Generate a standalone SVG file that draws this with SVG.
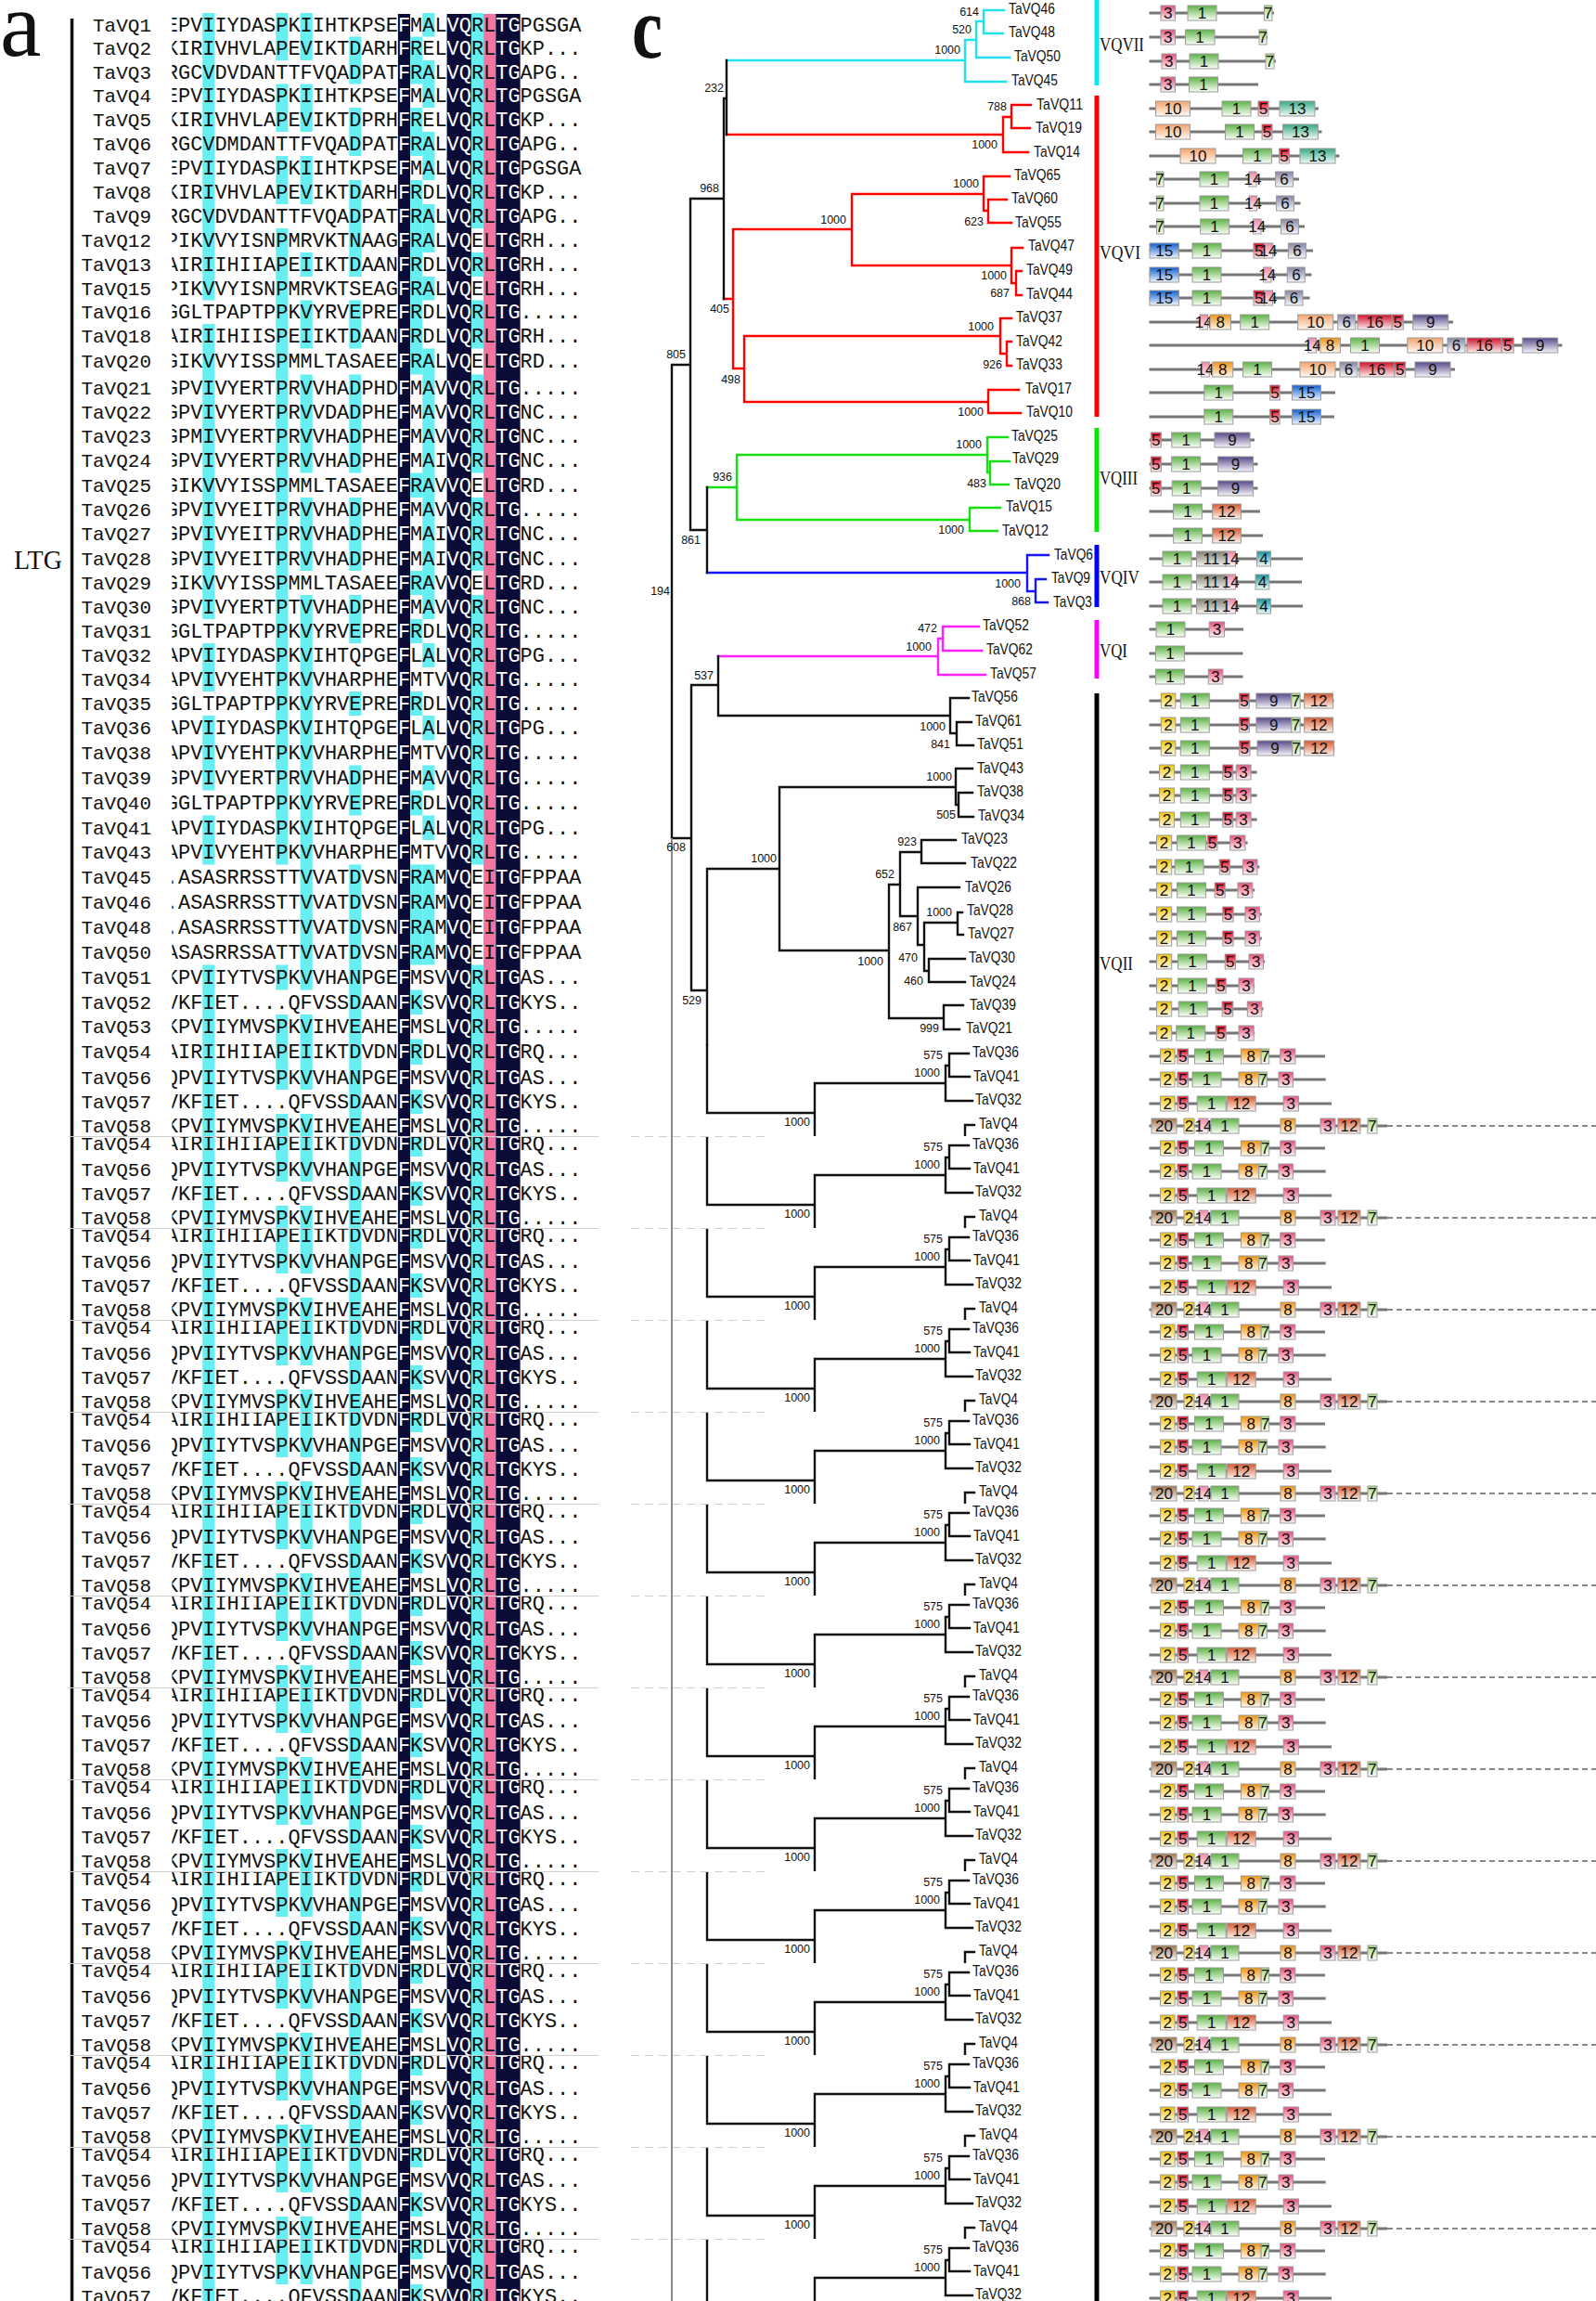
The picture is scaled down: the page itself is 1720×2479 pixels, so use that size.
<svg xmlns="http://www.w3.org/2000/svg" width="1720" height="2479" viewBox="0 0 1720 2479">
<style>
.nm{font-family:"Liberation Mono",monospace;font-size:21px;text-anchor:end;fill:#111}
.cy{fill:#66eef0}
.dk{fill:#0b0b38}
.lf{font-family:"Liberation Sans",Arial,sans-serif;font-size:17px;fill:#111}
.bs{font-family:"Liberation Sans",Arial,sans-serif;font-size:12.5px;fill:#111;text-anchor:end}
.t{fill:none;stroke-width:2.4;stroke-linecap:square}
.vq{font-family:"Liberation Serif",serif;font-size:22px;fill:#111}
.dm rect{stroke:#9a9a9a;stroke-width:1}
.dm text{font-family:"Liberation Sans",Arial,sans-serif;font-size:17px;text-anchor:middle;fill:#111}
.ln{stroke:#777;stroke-width:3;fill:none}
.seam{stroke:#cfcfcf;stroke-width:1;fill:none}
</style>
<defs>
<clipPath id="seqclip"><rect x="185.4" y="0" width="460" height="2479"/></clipPath>
<clipPath id="darkclip"><rect x="428.9" y="0" width="13.17" height="2479"/><rect x="481.6" y="0" width="26.33" height="2479"/><rect x="534.3" y="0" width="26.33" height="2479"/></clipPath>
<clipPath id="stripclip"><rect x="0" y="1125" width="1720" height="99"/></clipPath>
<linearGradient id="g1" x1="0" y1="0" x2="0" y2="1"><stop offset="0" stop-color="#5fb247"/><stop offset="1" stop-color="#fbfff8"/></linearGradient>
<linearGradient id="g2" x1="0" y1="0" x2="0" y2="1"><stop offset="0" stop-color="#f2c400"/><stop offset="1" stop-color="#fffbe8"/></linearGradient>
<linearGradient id="g3" x1="0" y1="0" x2="0" y2="1"><stop offset="0" stop-color="#e8507a"/><stop offset="1" stop-color="#fff2f5"/></linearGradient>
<linearGradient id="g4" x1="0" y1="0" x2="0" y2="1"><stop offset="0" stop-color="#15959a"/><stop offset="1" stop-color="#f2fbfb"/></linearGradient>
<linearGradient id="g5" x1="0" y1="0" x2="0" y2="1"><stop offset="0" stop-color="#e0001c"/><stop offset="1" stop-color="#fff0f0"/></linearGradient>
<linearGradient id="g6" x1="0" y1="0" x2="0" y2="1"><stop offset="0" stop-color="#8585a5"/><stop offset="1" stop-color="#f8f8fc"/></linearGradient>
<linearGradient id="g7" x1="0" y1="0" x2="0" y2="1"><stop offset="0" stop-color="#a6d676"/><stop offset="1" stop-color="#fbfff6"/></linearGradient>
<linearGradient id="g8" x1="0" y1="0" x2="0" y2="1"><stop offset="0" stop-color="#f09410"/><stop offset="1" stop-color="#fff8ec"/></linearGradient>
<linearGradient id="g9" x1="0" y1="0" x2="0" y2="1"><stop offset="0" stop-color="#574888"/><stop offset="1" stop-color="#f6f4fb"/></linearGradient>
<linearGradient id="g10" x1="0" y1="0" x2="0" y2="1"><stop offset="0" stop-color="#f5a46c"/><stop offset="1" stop-color="#fff8f2"/></linearGradient>
<linearGradient id="g11" x1="0" y1="0" x2="0" y2="1"><stop offset="0" stop-color="#7e7e72"/><stop offset="1" stop-color="#f6f6f2"/></linearGradient>
<linearGradient id="g12" x1="0" y1="0" x2="0" y2="1"><stop offset="0" stop-color="#d65a30"/><stop offset="1" stop-color="#fff3ee"/></linearGradient>
<linearGradient id="g13" x1="0" y1="0" x2="0" y2="1"><stop offset="0" stop-color="#38a884"/><stop offset="1" stop-color="#f0fbf7"/></linearGradient>
<linearGradient id="g14" x1="0" y1="0" x2="0" y2="1"><stop offset="0" stop-color="#f088a6"/><stop offset="1" stop-color="#fff5f8"/></linearGradient>
<linearGradient id="g15" x1="0" y1="0" x2="0" y2="1"><stop offset="0" stop-color="#0f5fd0"/><stop offset="1" stop-color="#eef5ff"/></linearGradient>
<linearGradient id="g16" x1="0" y1="0" x2="0" y2="1"><stop offset="0" stop-color="#d01028"/><stop offset="1" stop-color="#ffeef0"/></linearGradient>
<linearGradient id="g20" x1="0" y1="0" x2="0" y2="1"><stop offset="0" stop-color="#a07650"/><stop offset="1" stop-color="#fbf6f0"/></linearGradient>
</defs>

<g id="panel-a">
<text x="0" y="60" font-family="Liberation Serif" font-size="100" fill="#111">a</text>
<g id="columns">
<rect class="dk" x="428.9" y="15" width="13.17" height="2464"/>
<rect class="dk" x="481.6" y="15" width="26.33" height="2464"/>
<rect fill="#f5749f" x="521.1" y="15" width="13.17" height="2464"/>
<rect class="dk" x="534.3" y="15" width="26.33" height="2464"/>
</g>
<g id="cyan-cells">
<rect class="cy" x="218.3" y="14" width="13.17" height="309.5"/><rect class="cy" x="218.3" y="349" width="13.17" height="318"/><rect class="cy" x="218.3" y="693" width="13.17" height="52"/><rect class="cy" x="218.3" y="771" width="13.17" height="80.5"/><rect class="cy" x="218.3" y="878.5" width="13.17" height="53"/><rect class="cy" x="218.3" y="1039.5" width="13.17" height="85.5"/>
<rect class="cy" x="297.3" y="14" width="13.17" height="51"/><rect class="cy" x="297.3" y="90.5" width="13.17" height="51.5"/><rect class="cy" x="297.3" y="168" width="13.17" height="52"/><rect class="cy" x="297.3" y="246" width="13.17" height="685.5"/><rect class="cy" x="297.3" y="1039.5" width="13.17" height="27"/><rect class="cy" x="297.3" y="1093" width="13.17" height="32"/>
<rect class="cy" x="323.6" y="14" width="13.17" height="51"/><rect class="cy" x="323.6" y="90.5" width="13.17" height="51.5"/><rect class="cy" x="323.6" y="168" width="13.17" height="52"/><rect class="cy" x="323.6" y="272" width="13.17" height="26"/><rect class="cy" x="323.6" y="323.5" width="13.17" height="52"/><rect class="cy" x="323.6" y="403.5" width="13.17" height="106"/><rect class="cy" x="323.6" y="536" width="13.17" height="79"/><rect class="cy" x="323.6" y="641" width="13.17" height="425.5"/><rect class="cy" x="323.6" y="1093" width="13.17" height="32"/>
<rect class="cy" x="376.3" y="39.5" width="13.17" height="51"/><rect class="cy" x="376.3" y="116" width="13.17" height="52"/><rect class="cy" x="376.3" y="194" width="13.17" height="104"/><rect class="cy" x="376.3" y="323.5" width="13.17" height="52"/><rect class="cy" x="376.3" y="403.5" width="13.17" height="106"/><rect class="cy" x="376.3" y="536" width="13.17" height="79"/><rect class="cy" x="376.3" y="641" width="13.17" height="52"/><rect class="cy" x="376.3" y="745" width="13.17" height="26"/><rect class="cy" x="376.3" y="824.5" width="13.17" height="54"/><rect class="cy" x="376.3" y="931.5" width="13.17" height="193.5"/>
<rect class="cy" x="442.1" y="39.5" width="13.17" height="51"/><rect class="cy" x="442.1" y="116" width="13.17" height="52"/><rect class="cy" x="442.1" y="194" width="13.17" height="209.5"/><rect class="cy" x="442.1" y="509.5" width="13.17" height="26.5"/><rect class="cy" x="442.1" y="615" width="13.17" height="26"/><rect class="cy" x="442.1" y="667" width="13.17" height="26"/><rect class="cy" x="442.1" y="745" width="13.17" height="26"/><rect class="cy" x="442.1" y="851.5" width="13.17" height="27"/><rect class="cy" x="442.1" y="931.5" width="13.17" height="108"/><rect class="cy" x="442.1" y="1066.5" width="13.17" height="26.5"/><rect class="cy" x="442.1" y="1119.5" width="13.17" height="5.5"/>
<rect class="cy" x="455.3" y="14" width="13.17" height="25.5"/><rect class="cy" x="455.3" y="65" width="13.17" height="51"/><rect class="cy" x="455.3" y="142" width="13.17" height="52"/><rect class="cy" x="455.3" y="220" width="13.17" height="52"/><rect class="cy" x="455.3" y="298" width="13.17" height="25.5"/><rect class="cy" x="455.3" y="375.5" width="13.17" height="291.5"/><rect class="cy" x="455.3" y="693" width="13.17" height="26"/><rect class="cy" x="455.3" y="771" width="13.17" height="26.5"/><rect class="cy" x="455.3" y="824.5" width="13.17" height="27"/><rect class="cy" x="455.3" y="878.5" width="13.17" height="26.5"/><rect class="cy" x="455.3" y="931.5" width="13.17" height="108"/>
<rect class="cy" x="507.9" y="14" width="13.17" height="232"/><rect class="cy" x="507.9" y="272" width="13.17" height="26"/><rect class="cy" x="507.9" y="323.5" width="13.17" height="52"/><rect class="cy" x="507.9" y="403.5" width="13.17" height="106"/><rect class="cy" x="507.9" y="536" width="13.17" height="79"/><rect class="cy" x="507.9" y="641" width="13.17" height="290.5"/><rect class="cy" x="507.9" y="1039.5" width="13.17" height="85.5"/>
</g>
<rect x="75.8" y="20" width="3.5" height="2459" fill="#111"/>
<text x="15" y="613" font-family="Liberation Serif" font-size="29" fill="#111" textLength="52" lengthAdjust="spacingAndGlyphs">LTG</text>
<g id="names" class="nm">
<text x="163" y="34">TaVQ1</text><text x="163" y="59">TaVQ2</text><text x="163" y="85">TaVQ3</text><text x="163" y="110">TaVQ4</text><text x="163" y="136">TaVQ5</text><text x="163" y="162">TaVQ6</text><text x="163" y="188">TaVQ7</text><text x="163" y="214">TaVQ8</text><text x="163" y="240">TaVQ9</text><text x="163" y="266">TaVQ12</text><text x="163" y="292">TaVQ13</text><text x="163" y="318">TaVQ15</text><text x="163" y="343">TaVQ16</text><text x="163" y="369">TaVQ18</text><text x="163" y="396">TaVQ20</text><text x="163" y="425">TaVQ21</text><text x="163" y="451">TaVQ22</text><text x="163" y="477">TaVQ23</text><text x="163" y="503">TaVQ24</text><text x="163" y="530">TaVQ25</text><text x="163" y="556">TaVQ26</text><text x="163" y="582">TaVQ27</text><text x="163" y="609">TaVQ28</text><text x="163" y="635">TaVQ29</text><text x="163" y="661">TaVQ30</text><text x="163" y="687">TaVQ31</text><text x="163" y="713">TaVQ32</text><text x="163" y="739">TaVQ34</text><text x="163" y="765">TaVQ35</text><text x="163" y="791">TaVQ36</text><text x="163" y="818">TaVQ38</text><text x="163" y="845">TaVQ39</text><text x="163" y="872">TaVQ40</text><text x="163" y="899">TaVQ41</text><text x="163" y="925">TaVQ43</text><text x="163" y="952">TaVQ45</text><text x="163" y="979">TaVQ46</text><text x="163" y="1006">TaVQ48</text><text x="163" y="1033">TaVQ50</text><text x="163" y="1060">TaVQ51</text><text x="163" y="1087">TaVQ52</text><text x="163" y="1113">TaVQ53</text>
</g>
<g fill="#111"><g id="seqA" font-family="Liberation Mono, monospace" font-size="21.94" clip-path="url(#seqclip)">
<text x="178.8" y="34">EPVIIYDASPKIIHTKPSEFMALVQRLTGPGSGA</text>
<text x="178.8" y="59">KIRIVHVLAPEVIKTDARHFRELVQRLTGKP...</text>
<text x="178.8" y="85">RGCVDVDANTTFVQADPATFRALVQRLTGAPG..</text>
<text x="178.8" y="110">EPVIIYDASPKIIHTKPSEFMALVQRLTGPGSGA</text>
<text x="178.8" y="136">KIRIVHVLAPEVIKTDPRHFRELVQRLTGKP...</text>
<text x="178.8" y="162">RGCVDMDANTTFVQADPATFRALVQRLTGAPG..</text>
<text x="178.8" y="188">EPVIIYDASPKIIHTKPSEFMALVQRLTGPGSGA</text>
<text x="178.8" y="214">KIRIVHVLAPEVIKTDARHFRDLVQRLTGKP...</text>
<text x="178.8" y="240">RGCVDVDANTTFVQADPATFRALVQRLTGAPG..</text>
<text x="178.8" y="266">PIKVVYISNPMRVKTNAAGFRALVQELTGRH...</text>
<text x="178.8" y="292">AIRIIHIIAPEIIKTDAANFRDLVQRLTGRH...</text>
<text x="178.8" y="318">PIKVVYISNPMRVKTSEAGFRALVQELTGRH...</text>
<text x="178.8" y="343">GGLTPAPTPPKVYRVEPREFRDLVQRLTG.....</text>
<text x="178.8" y="369">AIRIIHIISPEIIKTDAANFRDLVQRLTGRH...</text>
<text x="178.8" y="396">GIKVVYISSPMMLTASAEEFRALVQELTGRD...</text>
<text x="178.8" y="425">GPVIVYERTPRVVHADPHDFMAVVQRLTG.....</text>
<text x="178.8" y="451">GPVIVYERTPRVVDADPHEFMAVVQRLTGNC...</text>
<text x="178.8" y="477">GPMIVYERTPRVVHADPHEFMAVVQRLTGNC...</text>
<text x="178.8" y="503">GPVIVYERTPRVVHADPHEFMAIVQRLTGNC...</text>
<text x="178.8" y="530">GIKVVYISSPMMLTASAEEFRAVVQELTGRD...</text>
<text x="178.8" y="556">GPVIVYEITPRVVHADPHEFMAVVQRLTG.....</text>
<text x="178.8" y="582">GPVIVYEITPRVVHADPHEFMAIVQRLTGNC...</text>
<text x="178.8" y="609">GPVIVYEITPRVVHADPHEFMAIVQRLTGNC...</text>
<text x="178.8" y="635">GIKVVYISSPMMLTASAEEFRAVVQELTGRD...</text>
<text x="178.8" y="661">GPVIVYERTPTVVHADPHEFMAVVQRLTGNC...</text>
<text x="178.8" y="687">GGLTPAPTPPKVYRVEPREFRDLVQRLTG.....</text>
<text x="178.8" y="713">APVIIYDASPKVIHTQPGEFLALVQRLTGPG...</text>
<text x="178.8" y="739">APVIVYEHTPKVVHARPHEFMTVVQRLTG.....</text>
<text x="178.8" y="765">GGLTPAPTPPKVYRVEPREFRDLVQRLTG.....</text>
<text x="178.8" y="791">APVIIYDASPKVIHTQPGEFLALVQRLTGPG...</text>
<text x="178.8" y="818">APVIVYEHTPKVVHARPHEFMTVVQRLTG.....</text>
<text x="178.8" y="845">GPVIVYERTPRVVHADPHEFMAVVQRLTG.....</text>
<text x="178.8" y="872">GGLTPAPTPPKVYRVEPREFRDLVQRLTG.....</text>
<text x="178.8" y="899">APVIIYDASPKVIHTQPGEFLALVQRLTGPG...</text>
<text x="178.8" y="925">APVIVYEHTPKVVHARPHEFMTVVQRLTG.....</text>
<text x="178.8" y="952">.ASASRRSSTTVVATDVSNFRAMVQEITGFPPAA</text>
<text x="178.8" y="979">.ASASRRSSTTVVATDVSNFRAMVQEITGFPPAA</text>
<text x="178.8" y="1006">.ASASRRSSTTVVATDVSNFRAMVQEITGFPPAA</text>
<text x="178.8" y="1033">ASASRRSSATTVVATDVSNFRAMVQEITGFPPAA</text>
<text x="178.8" y="1060">KPVIIYTVSPKVVHANPGEFMSVVQRLTGAS...</text>
<text x="178.8" y="1087">VKFIET....QFVSSDAANFKSVVQRLTGKYS..</text>
<text x="178.8" y="1113">KPVIIYMVSPKVIHVEAHEFMSLVQRLTG.....</text>
</g></g>
<use href="#seqA" fill="#fff" clip-path="url(#darkclip)"/>
</g>

<g id="tree">
<text x="681" y="62" font-family="Liberation Serif" font-weight="bold" font-size="96" fill="#111" textLength="33" lengthAdjust="spacingAndGlyphs">c</text>
<path class="t" stroke="#22e2ee" d="M783,65H1040M1040,43V88H1084M1040,43H1052M1052,23V62H1088M1052,23H1060M1060,11V36M1060,11H1082M1060,36H1081"/>
<path class="t" stroke="#f00" d="M783,145H1081M1081,126V164H1108M1081,126H1090M1090,113V138M1090,113H1111M1090,138H1110M780,322H790M790,247V397M790,247H918M918,209V286M918,209H1060M1060,190V227M1060,190H1088M1060,227H1065M1065,215V240M1065,215H1085M1065,240H1090M918,286H1090M1090,267V305M1090,267H1102M1090,305H1095M1095,292V318M1095,292H1101M1095,318H1101M790,397H802M802,362V433M802,362H1078M1078,343V381M1078,343H1090M1078,381H1085M1085,368V394M1085,368H1090M1085,394H1090M802,433H1065M1065,420V445M1065,420H1098M1065,445H1100"/>
<path class="t" stroke="#14e014" d="M762,525H794M794,490V560M794,490H1064M1064,471V509M1064,471H1086M1064,509H1067M1067,497V522M1067,497H1088M1067,522H1087M794,560H1045M1045,547V572M1045,547H1078M1045,572H1075"/>
<path class="t" stroke="#1414ff" d="M762,617H1107M1107,598V637M1107,598H1130M1107,637H1116M1116,624V649M1116,624H1127M1116,649H1129"/>
<path class="t" stroke="#ff20ff" d="M774,707H1011M1011,688V727M1011,688H1016M1016,675V701M1016,675H1055M1016,701H1058M1011,727H1062"/>
<path class="t" stroke="#111" d="M783,65V145M780,106H783M780,106V322M744,214H780M744,214V571M725,393H744M744,571H762M762,525V617M724,393V903M724,903H745M745,738V1067M745,738H774M745,1067H762M774,707V771M774,771H1024M1024,752V790M1024,752H1044M1024,790H1031M1031,778V803M1031,778H1047M1031,803H1049M762,936V1125M762,936H840M840,848V1024M840,848H1030M1030,828V867M1030,828H1048M1030,867H1033M1033,854V880M1033,854H1048M1033,880H1049M840,1024H958M958,953V1097M958,953H970M970,918V987M970,918H993M993,905V930M993,905H1030M993,930H1040M970,987H989M989,956V1018M989,956H1034M989,1018H996M996,994V1046M996,994H1032M1032,983V1007M1032,983H1037M1032,1007H1038M996,1046H1001M1001,1033V1058M1001,1033H1040M1001,1058H1040M958,1097H1017M1017,1083V1109M1017,1083H1038M1017,1109H1034"/>
<path d="M724,903V2479" stroke="#8a8a8a" stroke-width="2" fill="none"/>
<g id="leaf-labels" class="lf">
<text x="1087" y="15" textLength="50" lengthAdjust="spacingAndGlyphs">TaVQ46</text>
<text x="1087" y="40" textLength="50" lengthAdjust="spacingAndGlyphs">TaVQ48</text>
<text x="1093" y="66" textLength="50" lengthAdjust="spacingAndGlyphs">TaVQ50</text>
<text x="1090" y="92" textLength="50" lengthAdjust="spacingAndGlyphs">TaVQ45</text>
<text x="1117" y="118" textLength="50" lengthAdjust="spacingAndGlyphs">TaVQ11</text>
<text x="1116" y="143" textLength="50" lengthAdjust="spacingAndGlyphs">TaVQ19</text>
<text x="1114" y="169" textLength="50" lengthAdjust="spacingAndGlyphs">TaVQ14</text>
<text x="1093" y="194" textLength="50" lengthAdjust="spacingAndGlyphs">TaVQ65</text>
<text x="1090" y="219" textLength="50" lengthAdjust="spacingAndGlyphs">TaVQ60</text>
<text x="1094" y="245" textLength="50" lengthAdjust="spacingAndGlyphs">TaVQ55</text>
<text x="1108" y="270" textLength="50" lengthAdjust="spacingAndGlyphs">TaVQ47</text>
<text x="1106" y="296" textLength="50" lengthAdjust="spacingAndGlyphs">TaVQ49</text>
<text x="1106" y="322" textLength="50" lengthAdjust="spacingAndGlyphs">TaVQ44</text>
<text x="1095" y="347" textLength="50" lengthAdjust="spacingAndGlyphs">TaVQ37</text>
<text x="1095" y="373" textLength="50" lengthAdjust="spacingAndGlyphs">TaVQ42</text>
<text x="1095" y="398" textLength="50" lengthAdjust="spacingAndGlyphs">TaVQ33</text>
<text x="1105" y="424" textLength="50" lengthAdjust="spacingAndGlyphs">TaVQ17</text>
<text x="1106" y="449" textLength="50" lengthAdjust="spacingAndGlyphs">TaVQ10</text>
<text x="1090" y="475" textLength="50" lengthAdjust="spacingAndGlyphs">TaVQ25</text>
<text x="1091" y="499" textLength="50" lengthAdjust="spacingAndGlyphs">TaVQ29</text>
<text x="1093" y="527" textLength="50" lengthAdjust="spacingAndGlyphs">TaVQ20</text>
<text x="1084" y="551" textLength="50" lengthAdjust="spacingAndGlyphs">TaVQ15</text>
<text x="1080" y="577" textLength="50" lengthAdjust="spacingAndGlyphs">TaVQ12</text>
<text x="1136" y="603" textLength="42" lengthAdjust="spacingAndGlyphs">TaVQ6</text>
<text x="1133" y="628" textLength="42" lengthAdjust="spacingAndGlyphs">TaVQ9</text>
<text x="1135" y="654" textLength="42" lengthAdjust="spacingAndGlyphs">TaVQ3</text>
<text x="1059" y="679" textLength="50" lengthAdjust="spacingAndGlyphs">TaVQ52</text>
<text x="1063" y="705" textLength="50" lengthAdjust="spacingAndGlyphs">TaVQ62</text>
<text x="1067" y="731" textLength="50" lengthAdjust="spacingAndGlyphs">TaVQ57</text>
<text x="1047" y="756" textLength="50" lengthAdjust="spacingAndGlyphs">TaVQ56</text>
<text x="1051" y="782" textLength="50" lengthAdjust="spacingAndGlyphs">TaVQ61</text>
<text x="1053" y="807" textLength="50" lengthAdjust="spacingAndGlyphs">TaVQ51</text>
<text x="1053" y="833" textLength="50" lengthAdjust="spacingAndGlyphs">TaVQ43</text>
<text x="1053" y="858" textLength="50" lengthAdjust="spacingAndGlyphs">TaVQ38</text>
<text x="1054" y="884" textLength="50" lengthAdjust="spacingAndGlyphs">TaVQ34</text>
<text x="1036" y="909" textLength="50" lengthAdjust="spacingAndGlyphs">TaVQ23</text>
<text x="1046" y="935" textLength="50" lengthAdjust="spacingAndGlyphs">TaVQ22</text>
<text x="1040" y="961" textLength="50" lengthAdjust="spacingAndGlyphs">TaVQ26</text>
<text x="1042" y="986" textLength="50" lengthAdjust="spacingAndGlyphs">TaVQ28</text>
<text x="1043" y="1011" textLength="50" lengthAdjust="spacingAndGlyphs">TaVQ27</text>
<text x="1044" y="1037" textLength="50" lengthAdjust="spacingAndGlyphs">TaVQ30</text>
<text x="1045" y="1063" textLength="50" lengthAdjust="spacingAndGlyphs">TaVQ24</text>
<text x="1045" y="1088" textLength="50" lengthAdjust="spacingAndGlyphs">TaVQ39</text>
<text x="1041" y="1113" textLength="50" lengthAdjust="spacingAndGlyphs">TaVQ21</text>
</g>
<g id="bootstrap" class="bs">
<text x="1055" y="17">614</text><text x="1047" y="36">520</text><text x="1035" y="58">1000</text><text x="780" y="99">232</text><text x="1085" y="119">788</text><text x="1075" y="160">1000</text><text x="775" y="207">968</text><text x="1055" y="202">1000</text><text x="1060" y="243">623</text><text x="912" y="241">1000</text><text x="1085" y="301">1000</text><text x="1088" y="320">687</text><text x="786" y="337">405</text><text x="1071" y="356">1000</text><text x="739" y="386">805</text><text x="1080" y="397">926</text><text x="798" y="413">498</text><text x="1060" y="448">1000</text><text x="1058" y="483">1000</text><text x="789" y="518">936</text><text x="1063" y="525">483</text><text x="1039" y="575">1000</text><text x="755" y="586">861</text><text x="1100" y="633">1000</text><text x="722" y="641">194</text><text x="1111" y="652">868</text><text x="1010" y="681">472</text><text x="1004" y="701">1000</text><text x="769" y="732">537</text><text x="1019" y="787">1000</text><text x="1024" y="806">841</text><text x="1026" y="841">1000</text><text x="1030" y="882">505</text><text x="988" y="911">923</text><text x="739" y="917">608</text><text x="837" y="929">1000</text><text x="964" y="946">652</text><text x="1026" y="987">1000</text><text x="983" y="1003">867</text><text x="989" y="1036">470</text><text x="952" y="1040">1000</text><text x="995" y="1061">460</text><text x="756" y="1082">529</text><text x="1012" y="1112">999</text>
</g>
</g>

<g id="clade-bars">
<rect x="1179.5" y="0" width="5" height="92" fill="#00eaf5"/>
<rect x="1179.5" y="103" width="5" height="346" fill="#f00"/>
<rect x="1179.5" y="461" width="5" height="112" fill="#00e800"/>
<rect x="1179.5" y="587" width="5" height="67" fill="#00f"/>
<rect x="1179.5" y="668" width="5" height="63" fill="#f0f"/>
<rect x="1179.5" y="747" width="5" height="1732" fill="#000"/>
<text class="vq" x="1185" y="55" textLength="48" lengthAdjust="spacingAndGlyphs">VQVII</text>
<text class="vq" x="1185" y="279" textLength="44" lengthAdjust="spacingAndGlyphs">VQVI</text>
<text class="vq" x="1185" y="522" textLength="41" lengthAdjust="spacingAndGlyphs">VQIII</text>
<text class="vq" x="1185" y="629" textLength="43" lengthAdjust="spacingAndGlyphs">VQIV</text>
<text class="vq" x="1185" y="708" textLength="30" lengthAdjust="spacingAndGlyphs">VQI</text>
<text class="vq" x="1185" y="1045" textLength="36" lengthAdjust="spacingAndGlyphs">VQII</text>
</g>

<g id="domains" class="dm">
<g transform="translate(0,14)"><path class="ln" d="M1238.5,0H1373"/><rect x="1251" y="-8" width="15.5" height="16" fill="url(#g3)"/><text x="1258.7" y="6">3</text><rect x="1280" y="-8" width="31" height="16" fill="url(#g1)"/><text x="1295.5" y="6">1</text><rect x="1362.5" y="-8" width="8.5" height="16" fill="url(#g7)"/><text x="1366.7" y="6">7</text></g>
<g transform="translate(0,40)"><path class="ln" d="M1238.5,0H1366"/><rect x="1251" y="-8" width="15.5" height="16" fill="url(#g3)"/><text x="1258.7" y="6">3</text><rect x="1277.5" y="-8" width="31.5" height="16" fill="url(#g1)"/><text x="1293" y="6">1</text><rect x="1357" y="-8" width="8" height="16" fill="url(#g7)"/><text x="1361" y="6">7</text></g>
<g transform="translate(0,66)"><path class="ln" d="M1238.5,0H1375"/><rect x="1252" y="-8" width="15.5" height="16" fill="url(#g3)"/><text x="1259.7" y="6">3</text><rect x="1282" y="-8" width="31" height="16" fill="url(#g1)"/><text x="1297.5" y="6">1</text><rect x="1364" y="-8" width="9" height="16" fill="url(#g7)"/><text x="1368.5" y="6">7</text></g>
<g transform="translate(0,91)"><path class="ln" d="M1238.5,0H1356"/><rect x="1251" y="-8" width="15.5" height="16" fill="url(#g3)"/><text x="1258.7" y="6">3</text><rect x="1281.5" y="-8" width="31" height="16" fill="url(#g1)"/><text x="1297" y="6">1</text></g>
<g transform="translate(0,117)"><path class="ln" d="M1238.5,0H1421"/><rect x="1245.5" y="-8" width="37" height="16" fill="url(#g10)"/><text x="1264" y="6">10</text><rect x="1317" y="-8" width="31" height="16" fill="url(#g1)"/><text x="1332.5" y="6">1</text><rect x="1356" y="-8" width="11" height="16" fill="url(#g5)"/><text x="1361.5" y="6">5</text><rect x="1379" y="-8" width="38" height="16" fill="url(#g13)"/><text x="1398" y="6">13</text></g>
<g transform="translate(0,142)"><path class="ln" d="M1238.5,0H1424.5"/><rect x="1245.5" y="-8" width="37" height="16" fill="url(#g10)"/><text x="1264" y="6">10</text><rect x="1320.5" y="-8" width="31" height="16" fill="url(#g1)"/><text x="1336" y="6">1</text><rect x="1360" y="-8" width="11" height="16" fill="url(#g5)"/><text x="1365.5" y="6">5</text><rect x="1382.5" y="-8" width="38" height="16" fill="url(#g13)"/><text x="1401.5" y="6">13</text></g>
<g transform="translate(0,168)"><path class="ln" d="M1238.5,0H1443.5"/><rect x="1272" y="-8" width="38" height="16" fill="url(#g10)"/><text x="1291" y="6">10</text><rect x="1339.5" y="-8" width="31" height="16" fill="url(#g1)"/><text x="1355" y="6">1</text><rect x="1378.7" y="-8" width="10.7" height="16" fill="url(#g5)"/><text x="1384" y="6">5</text><rect x="1401" y="-8" width="38" height="16" fill="url(#g13)"/><text x="1420" y="6">13</text></g>
<g transform="translate(0,193)"><path class="ln" d="M1238.5,0H1400"/><rect x="1246.5" y="-8" width="7.5" height="16" fill="url(#g7)"/><text x="1250" y="6">7</text><rect x="1293" y="-8" width="31" height="16" fill="url(#g1)"/><text x="1308.5" y="6">1</text><rect x="1346" y="-8" width="8" height="16" fill="url(#g14)"/><text x="1350" y="6">14</text><rect x="1374.6" y="-8" width="19" height="16" fill="url(#g6)"/><text x="1384" y="6">6</text></g>
<g transform="translate(0,219)"><path class="ln" d="M1238.5,0H1401.5"/><rect x="1246.5" y="-8" width="7.5" height="16" fill="url(#g7)"/><text x="1250" y="6">7</text><rect x="1293" y="-8" width="31" height="16" fill="url(#g1)"/><text x="1308.5" y="6">1</text><rect x="1346.3" y="-8" width="8.3" height="16" fill="url(#g14)"/><text x="1350.5" y="6">14</text><rect x="1375.6" y="-8" width="19" height="16" fill="url(#g6)"/><text x="1385" y="6">6</text></g>
<g transform="translate(0,244)"><path class="ln" d="M1238.5,0H1406"/><rect x="1246.5" y="-8" width="7.5" height="16" fill="url(#g7)"/><text x="1250" y="6">7</text><rect x="1293.7" y="-8" width="31" height="16" fill="url(#g1)"/><text x="1309" y="6">1</text><rect x="1350.5" y="-8" width="8.6" height="16" fill="url(#g14)"/><text x="1354.8" y="6">14</text><rect x="1380.4" y="-8" width="19" height="16" fill="url(#g6)"/><text x="1390" y="6">6</text></g>
<g transform="translate(0,270)"><path class="ln" d="M1238.5,0H1415"/><rect x="1239" y="-8" width="31.5" height="16" fill="url(#g15)"/><text x="1254.7" y="6">15</text><rect x="1285" y="-8" width="31" height="16" fill="url(#g1)"/><text x="1300.5" y="6">1</text><rect x="1351" y="-8" width="11.5" height="16" fill="url(#g5)"/><text x="1356.7" y="6">5</text><rect x="1362.5" y="-8" width="9.3" height="16" fill="url(#g14)"/><text x="1367" y="6">14</text><rect x="1388.4" y="-8" width="19" height="16" fill="url(#g6)"/><text x="1398" y="6">6</text></g>
<g transform="translate(0,296)"><path class="ln" d="M1238.5,0H1413.5"/><rect x="1239" y="-8" width="31.5" height="16" fill="url(#g15)"/><text x="1254.7" y="6">15</text><rect x="1285" y="-8" width="31" height="16" fill="url(#g1)"/><text x="1300.5" y="6">1</text><rect x="1361.5" y="-8" width="8.6" height="16" fill="url(#g14)"/><text x="1365.8" y="6">14</text><rect x="1387.3" y="-8" width="19" height="16" fill="url(#g6)"/><text x="1397" y="6">6</text></g>
<g transform="translate(0,321)"><path class="ln" d="M1238.5,0H1411.5"/><rect x="1239" y="-8" width="31.5" height="16" fill="url(#g15)"/><text x="1254.7" y="6">15</text><rect x="1285" y="-8" width="31" height="16" fill="url(#g1)"/><text x="1300.5" y="6">1</text><rect x="1351" y="-8" width="11.5" height="16" fill="url(#g5)"/><text x="1356.7" y="6">5</text><rect x="1362.5" y="-8" width="9" height="16" fill="url(#g14)"/><text x="1367" y="6">14</text><rect x="1385" y="-8" width="19" height="16" fill="url(#g6)"/><text x="1394.5" y="6">6</text></g>
<g transform="translate(0,347)"><path class="ln" d="M1238.5,0H1566"/><rect x="1293" y="-8" width="8.6" height="16" fill="url(#g14)"/><text x="1297.3" y="6">14</text><rect x="1304" y="-8" width="22.4" height="16" fill="url(#g8)"/><text x="1315.2" y="6">8</text><rect x="1336.7" y="-8" width="31" height="16" fill="url(#g1)"/><text x="1352.2" y="6">1</text><rect x="1398.7" y="-8" width="38" height="16" fill="url(#g10)"/><text x="1417.7" y="6">10</text><rect x="1441.7" y="-8" width="19" height="16" fill="url(#g6)"/><text x="1451.2" y="6">6</text><rect x="1463" y="-8" width="37.3" height="16" fill="url(#g16)"/><text x="1481.6" y="6">16</text><rect x="1500.3" y="-8" width="12" height="16" fill="url(#g5)"/><text x="1506.3" y="6">5</text><rect x="1522.7" y="-8" width="38" height="16" fill="url(#g9)"/><text x="1541.7" y="6">9</text></g>
<g transform="translate(0,372)"><path class="ln" d="M1238.5,0H1683.5"/><rect x="1410" y="-8" width="8.6" height="16" fill="url(#g14)"/><text x="1414.3" y="6">14</text><rect x="1422.8" y="-8" width="21.7" height="16" fill="url(#g8)"/><text x="1433.6" y="6">8</text><rect x="1455.5" y="-8" width="31" height="16" fill="url(#g1)"/><text x="1471" y="6">1</text><rect x="1516.8" y="-8" width="38" height="16" fill="url(#g10)"/><text x="1535.8" y="6">10</text><rect x="1560" y="-8" width="19" height="16" fill="url(#g6)"/><text x="1569.5" y="6">6</text><rect x="1581" y="-8" width="37.2" height="16" fill="url(#g16)"/><text x="1599.6" y="6">16</text><rect x="1618.4" y="-8" width="12.8" height="16" fill="url(#g5)"/><text x="1624.8" y="6">5</text><rect x="1640.8" y="-8" width="38" height="16" fill="url(#g9)"/><text x="1659.8" y="6">9</text></g>
<g transform="translate(0,398)"><path class="ln" d="M1238.5,0H1568"/><rect x="1294.7" y="-8" width="8.6" height="16" fill="url(#g14)"/><text x="1299" y="6">14</text><rect x="1306.7" y="-8" width="22" height="16" fill="url(#g8)"/><text x="1317.7" y="6">8</text><rect x="1339.5" y="-8" width="31" height="16" fill="url(#g1)"/><text x="1355" y="6">1</text><rect x="1401" y="-8" width="38" height="16" fill="url(#g10)"/><text x="1420" y="6">10</text><rect x="1444" y="-8" width="19" height="16" fill="url(#g6)"/><text x="1453.5" y="6">6</text><rect x="1465" y="-8" width="37.5" height="16" fill="url(#g16)"/><text x="1483.8" y="6">16</text><rect x="1502.7" y="-8" width="12" height="16" fill="url(#g5)"/><text x="1508.7" y="6">5</text><rect x="1525" y="-8" width="38" height="16" fill="url(#g9)"/><text x="1544" y="6">9</text></g>
<g transform="translate(0,423)"><path class="ln" d="M1238.5,0H1439"/><rect x="1297.8" y="-8" width="31" height="16" fill="url(#g1)"/><text x="1313.3" y="6">1</text><rect x="1368.7" y="-8" width="10.4" height="16" fill="url(#g5)"/><text x="1373.9" y="6">5</text><rect x="1392.5" y="-8" width="31" height="16" fill="url(#g15)"/><text x="1408" y="6">15</text></g>
<g transform="translate(0,449)"><path class="ln" d="M1238.5,0H1438"/><rect x="1297.8" y="-8" width="31" height="16" fill="url(#g1)"/><text x="1313.3" y="6">1</text><rect x="1368.7" y="-8" width="10.4" height="16" fill="url(#g5)"/><text x="1373.9" y="6">5</text><rect x="1392.5" y="-8" width="31" height="16" fill="url(#g15)"/><text x="1408" y="6">15</text></g>
<g transform="translate(0,474)"><path class="ln" d="M1238.5,0H1352"/><rect x="1240.3" y="-8" width="11" height="16" fill="url(#g5)"/><text x="1245.8" y="6">5</text><rect x="1262.7" y="-8" width="31" height="16" fill="url(#g1)"/><text x="1278.2" y="6">1</text><rect x="1309" y="-8" width="38" height="16" fill="url(#g9)"/><text x="1328" y="6">9</text></g>
<g transform="translate(0,500)"><path class="ln" d="M1238.5,0H1355.6"/><rect x="1240.3" y="-8" width="11" height="16" fill="url(#g5)"/><text x="1245.8" y="6">5</text><rect x="1262.7" y="-8" width="31" height="16" fill="url(#g1)"/><text x="1278.2" y="6">1</text><rect x="1312.6" y="-8" width="38" height="16" fill="url(#g9)"/><text x="1331.6" y="6">9</text></g>
<g transform="translate(0,526)"><path class="ln" d="M1238.5,0H1355.6"/><rect x="1240.3" y="-8" width="11" height="16" fill="url(#g5)"/><text x="1245.8" y="6">5</text><rect x="1263.3" y="-8" width="31" height="16" fill="url(#g1)"/><text x="1278.8" y="6">1</text><rect x="1312.6" y="-8" width="38" height="16" fill="url(#g9)"/><text x="1331.6" y="6">9</text></g>
<g transform="translate(0,551)"><path class="ln" d="M1238.5,0H1358"/><rect x="1264.4" y="-8" width="31" height="16" fill="url(#g1)"/><text x="1279.9" y="6">1</text><rect x="1306.7" y="-8" width="30.7" height="16" fill="url(#g12)"/><text x="1322" y="6">12</text></g>
<g transform="translate(0,577)"><path class="ln" d="M1238.5,0H1361"/><rect x="1264.4" y="-8" width="31" height="16" fill="url(#g1)"/><text x="1279.9" y="6">1</text><rect x="1306.7" y="-8" width="30.7" height="16" fill="url(#g12)"/><text x="1322" y="6">12</text></g>
<g transform="translate(0,602)"><path class="ln" d="M1238.5,0H1404"/><rect x="1253" y="-8" width="31" height="16" fill="url(#g1)"/><text x="1268.5" y="6">1</text><rect x="1289.5" y="-8" width="31.7" height="16" fill="url(#g11)"/><text x="1305.3" y="6">11</text><rect x="1321.2" y="-8" width="10.3" height="16" fill="url(#g14)"/><text x="1326.3" y="6">14</text><rect x="1354.6" y="-8" width="14.8" height="16" fill="url(#g4)"/><text x="1362" y="6">4</text></g>
<g transform="translate(0,627)"><path class="ln" d="M1238.5,0H1403"/><rect x="1253" y="-8" width="31" height="16" fill="url(#g1)"/><text x="1268.5" y="6">1</text><rect x="1289.5" y="-8" width="31.7" height="16" fill="url(#g11)"/><text x="1305.3" y="6">11</text><rect x="1321.2" y="-8" width="10.3" height="16" fill="url(#g14)"/><text x="1326.3" y="6">14</text><rect x="1353" y="-8" width="14.8" height="16" fill="url(#g4)"/><text x="1360.4" y="6">4</text></g>
<g transform="translate(0,653)"><path class="ln" d="M1238.5,0H1404"/><rect x="1253" y="-8" width="31" height="16" fill="url(#g1)"/><text x="1268.5" y="6">1</text><rect x="1289.5" y="-8" width="31.7" height="16" fill="url(#g11)"/><text x="1305.3" y="6">11</text><rect x="1321.2" y="-8" width="10.3" height="16" fill="url(#g14)"/><text x="1326.3" y="6">14</text><rect x="1354.6" y="-8" width="14.8" height="16" fill="url(#g4)"/><text x="1362" y="6">4</text></g>
<g transform="translate(0,678)"><path class="ln" d="M1238.5,0H1340"/><rect x="1246" y="-8" width="31" height="16" fill="url(#g1)"/><text x="1261.5" y="6">1</text><rect x="1303.3" y="-8" width="16.2" height="16" fill="url(#g3)"/><text x="1311.4" y="6">3</text></g>
<g transform="translate(0,704)"><path class="ln" d="M1238.5,0H1339.5"/><rect x="1245.4" y="-8" width="31" height="16" fill="url(#g1)"/><text x="1260.9" y="6">1</text></g>
<g transform="translate(0,729)"><path class="ln" d="M1238.5,0H1339.5"/><rect x="1245.4" y="-8" width="31" height="16" fill="url(#g1)"/><text x="1260.9" y="6">1</text><rect x="1302.3" y="-8" width="15.5" height="16" fill="url(#g3)"/><text x="1310" y="6">3</text></g>
<g transform="translate(0,755)"><path class="ln" d="M1238.5,0H1437.6"/><rect x="1251.3" y="-8" width="15.5" height="16" fill="url(#g2)"/><text x="1259" y="6">2</text><rect x="1272.3" y="-8" width="31" height="16" fill="url(#g1)"/><text x="1287.8" y="6">1</text><rect x="1335.7" y="-8" width="10.6" height="16" fill="url(#g5)"/><text x="1341" y="6">5</text><rect x="1353.9" y="-8" width="37.9" height="16" fill="url(#g9)"/><text x="1372.8" y="6">9</text><rect x="1391.8" y="-8" width="9.3" height="16" fill="url(#g7)"/><text x="1396.4" y="6">7</text><rect x="1405.6" y="-8" width="31" height="16" fill="url(#g12)"/><text x="1421.1" y="6">12</text></g>
<g transform="translate(0,781)"><path class="ln" d="M1238.5,0H1436.6"/><rect x="1251.3" y="-8" width="15.5" height="16" fill="url(#g2)"/><text x="1259" y="6">2</text><rect x="1272.3" y="-8" width="31" height="16" fill="url(#g1)"/><text x="1287.8" y="6">1</text><rect x="1335.7" y="-8" width="10.6" height="16" fill="url(#g5)"/><text x="1341" y="6">5</text><rect x="1353.9" y="-8" width="37.9" height="16" fill="url(#g9)"/><text x="1372.8" y="6">9</text><rect x="1391.8" y="-8" width="9.3" height="16" fill="url(#g7)"/><text x="1396.4" y="6">7</text><rect x="1405.6" y="-8" width="31" height="16" fill="url(#g12)"/><text x="1421.1" y="6">12</text></g>
<g transform="translate(0,806)"><path class="ln" d="M1238.5,0H1438.3"/><rect x="1251.3" y="-8" width="15.5" height="16" fill="url(#g2)"/><text x="1259" y="6">2</text><rect x="1272.3" y="-8" width="31" height="16" fill="url(#g1)"/><text x="1287.8" y="6">1</text><rect x="1335.7" y="-8" width="11.3" height="16" fill="url(#g5)"/><text x="1341.3" y="6">5</text><rect x="1355" y="-8" width="37.8" height="16" fill="url(#g9)"/><text x="1373.9" y="6">9</text><rect x="1392.8" y="-8" width="8.3" height="16" fill="url(#g7)"/><text x="1397" y="6">7</text><rect x="1405.6" y="-8" width="32" height="16" fill="url(#g12)"/><text x="1421.6" y="6">12</text></g>
<g transform="translate(0,832)"><path class="ln" d="M1238.5,0H1354.6"/><rect x="1249.6" y="-8" width="15.8" height="16" fill="url(#g2)"/><text x="1257.5" y="6">2</text><rect x="1272.3" y="-8" width="31" height="16" fill="url(#g1)"/><text x="1287.8" y="6">1</text><rect x="1317.8" y="-8" width="11" height="16" fill="url(#g5)"/><text x="1323.3" y="6">5</text><rect x="1332.2" y="-8" width="15.9" height="16" fill="url(#g3)"/><text x="1340.1" y="6">3</text></g>
<g transform="translate(0,857)"><path class="ln" d="M1238.5,0H1354.6"/><rect x="1249.6" y="-8" width="15.8" height="16" fill="url(#g2)"/><text x="1257.5" y="6">2</text><rect x="1272.3" y="-8" width="31" height="16" fill="url(#g1)"/><text x="1287.8" y="6">1</text><rect x="1317.8" y="-8" width="11" height="16" fill="url(#g5)"/><text x="1323.3" y="6">5</text><rect x="1332.2" y="-8" width="15.9" height="16" fill="url(#g3)"/><text x="1340.1" y="6">3</text></g>
<g transform="translate(0,883)"><path class="ln" d="M1238.5,0H1354.6"/><rect x="1249.6" y="-8" width="15.8" height="16" fill="url(#g2)"/><text x="1257.5" y="6">2</text><rect x="1272.3" y="-8" width="31" height="16" fill="url(#g1)"/><text x="1287.8" y="6">1</text><rect x="1317.8" y="-8" width="11" height="16" fill="url(#g5)"/><text x="1323.3" y="6">5</text><rect x="1332.2" y="-8" width="15.9" height="16" fill="url(#g3)"/><text x="1340.1" y="6">3</text></g>
<g transform="translate(0,908)"><path class="ln" d="M1238.5,0H1344.6"/><rect x="1246.5" y="-8" width="16.2" height="16" fill="url(#g2)"/><text x="1254.6" y="6">2</text><rect x="1268.5" y="-8" width="31" height="16" fill="url(#g1)"/><text x="1284" y="6">1</text><rect x="1301.2" y="-8" width="10.7" height="16" fill="url(#g5)"/><text x="1306.5" y="6">5</text><rect x="1325.7" y="-8" width="16.2" height="16" fill="url(#g3)"/><text x="1333.8" y="6">3</text></g>
<g transform="translate(0,934)"><path class="ln" d="M1238.5,0H1357.4"/><rect x="1246.5" y="-8" width="16.2" height="16" fill="url(#g2)"/><text x="1254.6" y="6">2</text><rect x="1266.1" y="-8" width="31" height="16" fill="url(#g1)"/><text x="1281.6" y="6">1</text><rect x="1314.3" y="-8" width="11" height="16" fill="url(#g5)"/><text x="1319.8" y="6">5</text><rect x="1339.5" y="-8" width="15.5" height="16" fill="url(#g3)"/><text x="1347.2" y="6">3</text></g>
<g transform="translate(0,959)"><path class="ln" d="M1238.5,0H1352.2"/><rect x="1246.5" y="-8" width="16.2" height="16" fill="url(#g2)"/><text x="1254.6" y="6">2</text><rect x="1268.5" y="-8" width="31" height="16" fill="url(#g1)"/><text x="1284" y="6">1</text><rect x="1309.2" y="-8" width="11" height="16" fill="url(#g5)"/><text x="1314.7" y="6">5</text><rect x="1334" y="-8" width="15.8" height="16" fill="url(#g3)"/><text x="1341.9" y="6">3</text></g>
<g transform="translate(0,985)"><path class="ln" d="M1238.5,0H1359.8"/><rect x="1246.5" y="-8" width="16.2" height="16" fill="url(#g2)"/><text x="1254.6" y="6">2</text><rect x="1268.5" y="-8" width="31" height="16" fill="url(#g1)"/><text x="1284" y="6">1</text><rect x="1317.8" y="-8" width="11.3" height="16" fill="url(#g5)"/><text x="1323.4" y="6">5</text><rect x="1341.9" y="-8" width="15.5" height="16" fill="url(#g3)"/><text x="1349.6" y="6">3</text></g>
<g transform="translate(0,1011)"><path class="ln" d="M1238.5,0H1359.8"/><rect x="1246.5" y="-8" width="16.2" height="16" fill="url(#g2)"/><text x="1254.6" y="6">2</text><rect x="1268.5" y="-8" width="31" height="16" fill="url(#g1)"/><text x="1284" y="6">1</text><rect x="1317.8" y="-8" width="11.3" height="16" fill="url(#g5)"/><text x="1323.4" y="6">5</text><rect x="1341.9" y="-8" width="15.5" height="16" fill="url(#g3)"/><text x="1349.6" y="6">3</text></g>
<g transform="translate(0,1036)"><path class="ln" d="M1238.5,0H1363.2"/><rect x="1246.5" y="-8" width="16.2" height="16" fill="url(#g2)"/><text x="1254.6" y="6">2</text><rect x="1269.5" y="-8" width="31" height="16" fill="url(#g1)"/><text x="1285" y="6">1</text><rect x="1320.2" y="-8" width="11.3" height="16" fill="url(#g5)"/><text x="1325.8" y="6">5</text><rect x="1346" y="-8" width="15.5" height="16" fill="url(#g3)"/><text x="1353.7" y="6">3</text></g>
<g transform="translate(0,1062)"><path class="ln" d="M1238.5,0H1352.2"/><rect x="1246.5" y="-8" width="16.2" height="16" fill="url(#g2)"/><text x="1254.6" y="6">2</text><rect x="1269.5" y="-8" width="31" height="16" fill="url(#g1)"/><text x="1285" y="6">1</text><rect x="1310.2" y="-8" width="11" height="16" fill="url(#g5)"/><text x="1315.7" y="6">5</text><rect x="1335" y="-8" width="16.2" height="16" fill="url(#g3)"/><text x="1343.1" y="6">3</text></g>
<g transform="translate(0,1087)"><path class="ln" d="M1238.5,0H1361.5"/><rect x="1246.5" y="-8" width="16.2" height="16" fill="url(#g2)"/><text x="1254.6" y="6">2</text><rect x="1270.2" y="-8" width="31" height="16" fill="url(#g1)"/><text x="1285.7" y="6">1</text><rect x="1317.1" y="-8" width="11.7" height="16" fill="url(#g5)"/><text x="1323" y="6">5</text><rect x="1344.3" y="-8" width="15.5" height="16" fill="url(#g3)"/><text x="1352" y="6">3</text></g>
<g transform="translate(0,1113)"><path class="ln" d="M1238.5,0H1352.2"/><rect x="1246.5" y="-8" width="16.2" height="16" fill="url(#g2)"/><text x="1254.6" y="6">2</text><rect x="1267.8" y="-8" width="31" height="16" fill="url(#g1)"/><text x="1283.3" y="6">1</text><rect x="1310.2" y="-8" width="11" height="16" fill="url(#g5)"/><text x="1315.7" y="6">5</text><rect x="1335" y="-8" width="16.2" height="16" fill="url(#g3)"/><text x="1343.1" y="6">3</text></g>
</g>

<g id="strip" clip-path="url(#stripclip)">
<g class="cyan-strip">
<rect class="cy" x="218.3" y="1125" width="13.17" height="99"/><rect class="cy" x="297.3" y="1125" width="13.17" height="49"/><rect class="cy" x="297.3" y="1200" width="13.17" height="24"/><rect class="cy" x="323.6" y="1125" width="13.17" height="49"/><rect class="cy" x="323.6" y="1200" width="13.17" height="24"/><rect class="cy" x="376.3" y="1125" width="13.17" height="99"/><rect class="cy" x="442.1" y="1125" width="13.17" height="22"/><rect class="cy" x="442.1" y="1174" width="13.17" height="26"/><rect class="cy" x="507.9" y="1125" width="13.17" height="99"/>
</g>
<g class="nm"><text x="163" y="1140">TaVQ54</text><text x="163" y="1168">TaVQ56</text><text x="163" y="1194">TaVQ57</text><text x="163" y="1220">TaVQ58</text></g>
<g fill="#111"><g id="seqB" font-family="Liberation Mono, monospace" font-size="21.94" clip-path="url(#seqclip)">
<text x="178.8" y="1140">AIRIIHIIAPEIIKTDVDNFRDLVQRLTGRQ...</text>
<text x="178.8" y="1168">QPVIIYTVSPKVVHANPGEFMSVVQRLTGAS...</text>
<text x="178.8" y="1194">VKFIET....QFVSSDAANFKSVVQRLTGKYS..</text>
<text x="178.8" y="1220">KPVIIYMVSPKVIHVEAHEFMSLVQRLTG.....</text>
</g></g>
<use href="#seqB" fill="#fff" clip-path="url(#darkclip)"/>
<path class="t" stroke="#111" d="M762,1125V1199H878M878,1167V1230M878,1167H1019M1019,1148V1186M1019,1148H1023M1023,1135V1160M1023,1135H1044M1023,1160H1045M1019,1186H1048M1040,1224V1212H1050"/>
<g class="lf"><text x="1048" y="1139" textLength="50" lengthAdjust="spacingAndGlyphs">TaVQ36</text><text x="1049" y="1165" textLength="50" lengthAdjust="spacingAndGlyphs">TaVQ41</text><text x="1051" y="1190" textLength="50" lengthAdjust="spacingAndGlyphs">TaVQ32</text><text x="1055" y="1216" textLength="42" lengthAdjust="spacingAndGlyphs">TaVQ4</text></g>
<g class="bs"><text x="1016" y="1141">575</text><text x="1013" y="1160">1000</text><text x="873" y="1213">1000</text></g>
<g class="dm">
<g transform="translate(0,1138)"><path class="ln" d="M1238.5,0H1428"/><rect x="1250.6" y="-8" width="15.5" height="16" fill="url(#g2)"/><text x="1258.3" y="6">2</text><rect x="1268.9" y="-8" width="11.7" height="16" fill="url(#g5)"/><text x="1274.7" y="6">5</text><rect x="1287.5" y="-8" width="31" height="16" fill="url(#g1)"/><text x="1303" y="6">1</text><rect x="1337.4" y="-8" width="21.7" height="16" fill="url(#g8)"/><text x="1348.2" y="6">8</text><rect x="1359.1" y="-8" width="8.6" height="16" fill="url(#g7)"/><text x="1363.4" y="6">7</text><rect x="1379.8" y="-8" width="16.1" height="16" fill="url(#g3)"/><text x="1387.8" y="6">3</text></g>
<g transform="translate(0,1163)"><path class="ln" d="M1238.5,0H1428.7"/><rect x="1250.6" y="-8" width="15.5" height="16" fill="url(#g2)"/><text x="1258.3" y="6">2</text><rect x="1268.9" y="-8" width="11.7" height="16" fill="url(#g5)"/><text x="1274.7" y="6">5</text><rect x="1285" y="-8" width="31" height="16" fill="url(#g1)"/><text x="1300.5" y="6">1</text><rect x="1335" y="-8" width="21.7" height="16" fill="url(#g8)"/><text x="1345.8" y="6">8</text><rect x="1356.7" y="-8" width="8.6" height="16" fill="url(#g7)"/><text x="1361" y="6">7</text><rect x="1378" y="-8" width="15.5" height="16" fill="url(#g3)"/><text x="1385.7" y="6">3</text></g>
<g transform="translate(0,1189)"><path class="ln" d="M1238.5,0H1435"/><rect x="1250.6" y="-8" width="15.5" height="16" fill="url(#g2)"/><text x="1258.3" y="6">2</text><rect x="1268.9" y="-8" width="11.7" height="16" fill="url(#g5)"/><text x="1274.7" y="6">5</text><rect x="1290.2" y="-8" width="31" height="16" fill="url(#g1)"/><text x="1305.7" y="6">1</text><rect x="1322.2" y="-8" width="31" height="16" fill="url(#g12)"/><text x="1337.7" y="6">12</text><rect x="1383.2" y="-8" width="16.2" height="16" fill="url(#g3)"/><text x="1391.3" y="6">3</text></g>
<g transform="translate(0,1213)"><path class="ln" d="M1238.5,0H1495"/><path d="M1495,0H1720" stroke="#888" stroke-width="2" stroke-dasharray="6 4"/><rect x="1241" y="-8" width="27" height="16" fill="url(#g20)"/><text x="1254.5" y="6">20</text><rect x="1276" y="-8" width="11" height="16" fill="url(#g2)"/><text x="1281.5" y="6">2</text><rect x="1292" y="-8" width="10" height="16" fill="url(#g14)"/><text x="1297" y="6">14</text><rect x="1305" y="-8" width="30" height="16" fill="url(#g1)"/><text x="1320" y="6">1</text><rect x="1380" y="-8" width="16" height="16" fill="url(#g8)"/><text x="1388" y="6">8</text><rect x="1423" y="-8" width="16" height="16" fill="url(#g3)"/><text x="1431" y="6">3</text><rect x="1442" y="-8" width="24" height="16" fill="url(#g12)"/><text x="1454" y="6">12</text><rect x="1474" y="-8" width="10" height="16" fill="url(#g7)"/><text x="1479" y="6">7</text></g>
</g>
</g>
<g id="strip-repeats">
<use href="#strip" transform="translate(0,99)"/><use href="#strip" transform="translate(0,198)"/><use href="#strip" transform="translate(0,297)"/><use href="#strip" transform="translate(0,396)"/><use href="#strip" transform="translate(0,495)"/><use href="#strip" transform="translate(0,594)"/><use href="#strip" transform="translate(0,693)"/><use href="#strip" transform="translate(0,792)"/><use href="#strip" transform="translate(0,891)"/><use href="#strip" transform="translate(0,990)"/><use href="#strip" transform="translate(0,1089)"/><use href="#strip" transform="translate(0,1188)"/><use href="#strip" transform="translate(0,1287)"/>
</g>
<g id="seams">
<path class="seam" d="M74,1224.5H645M74,1323.5H645M74,1422.5H645M74,1521.5H645M74,1620.5H645M74,1719.5H645M74,1818.5H645M74,1917.5H645M74,2016.5H645M74,2115.5H645M74,2214.5H645M74,2313.5H645M74,2412.5H645"/>
<path class="seam" stroke-dasharray="9 6" d="M680,1224.5H830M680,1323.5H830M680,1422.5H830M680,1521.5H830M680,1620.5H830M680,1719.5H830M680,1818.5H830M680,1917.5H830M680,2016.5H830M680,2115.5H830M680,2214.5H830M680,2313.5H830M680,2412.5H830"/>
</g>
</svg>
